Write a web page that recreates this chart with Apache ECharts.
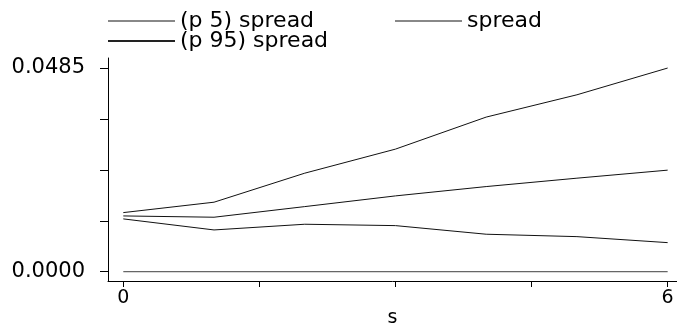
<!DOCTYPE html>
<html>
<head>
<meta charset="utf-8">
<script src="https://cdn.jsdelivr.net/npm/echarts@6/dist/echarts.min.js"></script>
<style>
html,body{margin:0;padding:0;background:#fff;}
#c{width:677px;height:325px;}
</style>
</head>
<body>
<div id="c"></div>
<script>
// ---- data ----
var steps = [0, 1, 2, 3, 4, 5, 6];
var spreadP5 = [0.01257, 0.00994, 0.01130, 0.01097, 0.00892, 0.00835, 0.00692];
var spread = [0.01328, 0.01297, 0.01550, 0.01805, 0.02027, 0.02227, 0.02418];
var spreadP95 = [0.01407, 0.01655, 0.02346, 0.02919, 0.03682, 0.04213, 0.04850];
var zeroLine = [0, 0, 0, 0, 0, 0, 0];
var xTickValues = [0, 1.5, 3, 4.5, 6];
var xLabelValues = [0, 6];
var yTickValues = [0, 0.012125, 0.02425, 0.036375, 0.0485];
var yLabelValues = [0, 0.0485];
var seriesNames = ['(p 5) spread', 'spread', '(p 95) spread'];

function pairs(ys) { return steps.map(function (x, i) { return [x, ys[i]]; }); }

var FONT = 'DejaVu Sans';
var chart = echarts.init(document.getElementById('c'), null, { renderer: 'canvas' });

function legendAt(name, left, top, color) {
  return {
    show: true,
    orient: 'horizontal',
    left: left, top: top,
    padding: 0,
    itemWidth: 67, itemHeight: 2,
    selectedMode: false,
    textStyle: { fontFamily: FONT, fontSize: 22, color: '#000', lineHeight: 20 },
    data: [{ name: name, icon: 'rect', itemStyle: { color: color } }]
  };
}

chart.setOption({
  animation: false,
  backgroundColor: '#fff',
  grid: { left: 108, right: 0, top: 58, bottom: 44, containLabel: false, outerBoundsMode: 'none' },
  legend: [
    legendAt(seriesNames[0], 108, 10, '#888'),
    legendAt(seriesNames[1], 395, 10, '#888'),
    legendAt(seriesNames[2], 108, 30, '#222')
  ],
  xAxis: {
    type: 'value',
    min: -0.1686, max: 6.103,
    name: 's',
    nameLocation: 'middle',
    nameGap: 28,
    nameMoveOverlap: false,
    nameTextStyle: { fontFamily: FONT, fontSize: 19, color: '#000', lineHeight: 19 },
    axisLine: { show: true, onZero: false, lineStyle: { color: '#000', width: 1 } },
    axisTick: { show: true, length: 6, lineStyle: { color: '#000' }, customValues: xTickValues },
    axisLabel: { show: true, margin: 8, fontFamily: FONT, fontSize: 19, color: '#000',
      customValues: xLabelValues, formatter: function (v) { return String(v); } },
    splitLine: { show: false }
  },
  yAxis: {
    type: 'value',
    min: -0.002218, max: 0.05089,
    axisLine: { show: true, onZero: false, lineStyle: { color: '#000', width: 1 } },
    axisTick: { show: true, length: 8, lineStyle: { color: '#000' }, customValues: yTickValues },
    axisLabel: { show: true, margin: 23, fontFamily: FONT, fontSize: 21, color: '#000',
      customValues: yLabelValues, formatter: function (v) { return v.toFixed(4); } },
    splitLine: { show: false }
  },
  series: [
    { name: seriesNames[0], type: 'line', data: pairs(spreadP5), symbol: 'none',
      lineStyle: { color: '#111', width: 1 }, itemStyle: { color: '#888' } },
    { name: seriesNames[1], type: 'line', data: pairs(spread), symbol: 'none',
      lineStyle: { color: '#111', width: 1 }, itemStyle: { color: '#888' } },
    { name: seriesNames[2], type: 'line', data: pairs(spreadP95), symbol: 'none',
      lineStyle: { color: '#111', width: 1 }, itemStyle: { color: '#222' } },
    { name: 'zero', type: 'line', data: pairs(zeroLine), symbol: 'none',
      lineStyle: { color: '#666', width: 1.3 }, itemStyle: { color: '#666' } }
  ]
});
</script>
</body>
</html>
